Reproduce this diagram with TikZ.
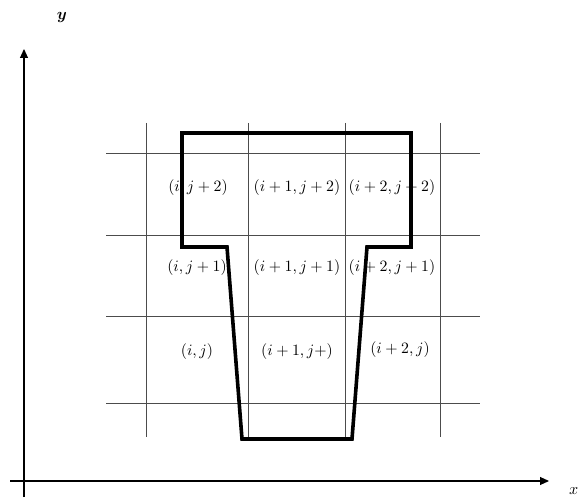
\documentclass[tikz,border=0pt]{standalone}
\usepackage{amsmath,bm}
\usetikzlibrary{arrows.meta}
\newcommand{\cellt}[1]{\scalebox{1.58}{$#1$}}
\begin{document}
\begin{tikzpicture}[x=1pt,y=-1pt,
  gridline/.style={draw=black!70,line width=0.9pt},
  axis/.style={draw=black,line width=1.1pt,-{Triangle[length=9pt,width=8pt]}},
  outline/.style={draw=black,line width=3.6pt,line join=miter},
  cell/.style={inner sep=0pt}]
\useasboundingbox (0,0) rectangle (582,500);
% axes
\coordinate (yb) at (24,497);
\coordinate (yt) at (24,49);
\coordinate (xl) at (10,481);
\coordinate (xr) at (549,481);
\draw[axis] (yb) -- (yt);
\draw[axis] (xl) -- (xr);
\node (ylab) at (62,18) {\scalebox{1.6}{$\bm{y}$}};
\node[anchor=west,inner sep=0pt] (xlab) at (569,491) {\scalebox{1.6}{$x$}};
% grid
\foreach \gx in {146,248,345,440}{\draw[gridline] (\gx,123) -- (\gx,437);}
\foreach \gy in {153,235,316,403}{\draw[gridline] (106,\gy) -- (480,\gy);}
% labels
\node[cell] (c13) at (198,188) {\cellt{(i,j+2)}};
\node[cell] (c23) at (297,188) {\cellt{(i+1,j+2)}};
\node[cell] (c33) at (392,188) {\cellt{(i+2,j+2)}};
\node[cell] (c12) at (197,268) {\cellt{(i,j+1)}};
\node[cell] (c22) at (297,268) {\cellt{(i+1,j+1)}};
\node[cell] (c32) at (392,268) {\cellt{(i+2,j+1)}};
\node[cell] (c11) at (197,352) {\cellt{(i,j)}};
\node[cell] (c21) at (297,352) {\cellt{(i+1,j+)}};
\node[cell] (c31) at (400,350) {\cellt{(i+2,j)}};
% thick outline
\draw[outline] (182,133) -- (411,133) -- (411,247) -- (367,247) -- (352,439)
  -- (242,439) -- (227,247) -- (182,247) -- cycle;
\end{tikzpicture}
\end{document}
